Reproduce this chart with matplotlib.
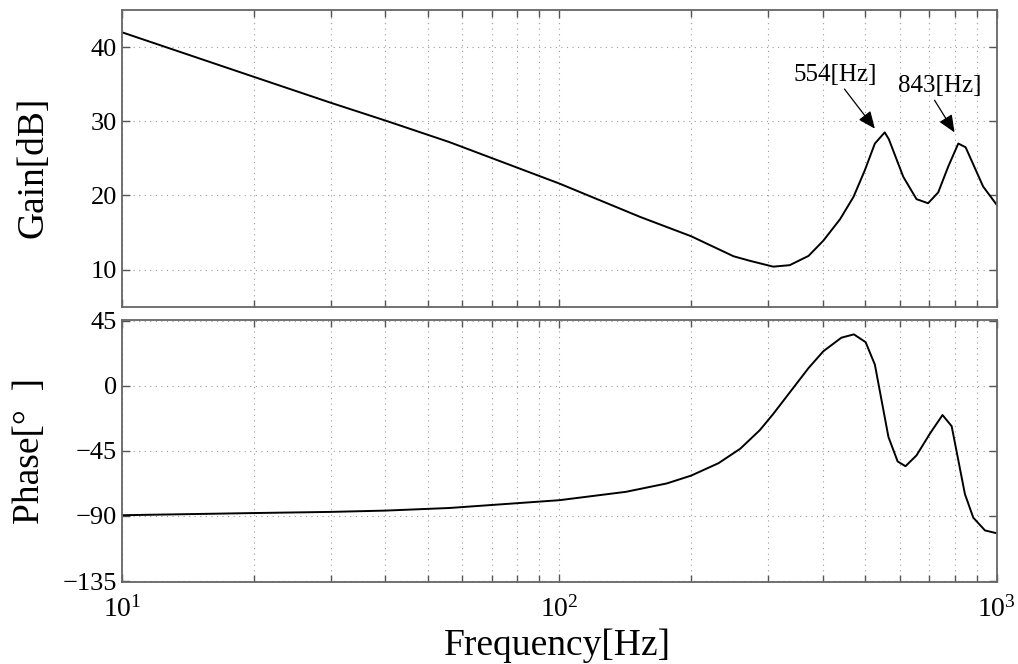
import numpy as np
import matplotlib
matplotlib.use("Agg")
import matplotlib.pyplot as plt
from matplotlib.ticker import LogLocator, NullFormatter, FixedLocator

plt.rcParams['font.family'] = ['Liberation Serif', 'DejaVu Serif']
plt.rcParams['mathtext.fontset'] = 'custom'
plt.rcParams['mathtext.rm'] = 'Liberation Serif'
plt.rcParams['mathtext.it'] = 'Liberation Serif:italic'
plt.rcParams['axes.unicode_minus'] = True

# ---------------------------------------------
# Bode data (frequency in Hz)
# ---------------------------------------------
gain_freq = [10, 20, 30, 40, 56, 100, 153, 200, 250, 272, 308, 336, 371, 401,
             438, 470, 499, 526, 554, 566, 611, 655, 696, 734, 774, 816, 848,
             930, 1000]
gain_db = [42.0, 36.0, 32.5, 30.1, 27.2, 21.6, 17.1, 14.5, 11.8, 11.2, 10.4,
           10.6, 11.85, 13.9, 16.8, 19.8, 23.4, 27.0, 28.5, 27.6, 22.5, 19.5,
           18.95, 20.4, 23.9, 27.0, 26.5, 21.2, 18.7]

phase_freq = [10, 20, 30, 40, 56, 100, 142, 176, 200, 231, 259, 287, 308, 342,
              371, 401, 441, 471, 501, 526, 565, 593, 618, 655, 703, 751, 788,
              845, 883, 939, 1000]
phase_deg = [-89.5, -88.0, -87.2, -86.3, -84.5, -79.1, -73.3, -67.5, -62.1,
             -53.5, -43.5, -30.7, -19.5, -1.6, 12.3, 23.9, 33.3, 35.6, 30.2,
             14.7, -35.4, -52.3, -55.6, -48.1, -33.0, -20.2, -27.9, -74.9,
             -91.2, -100.0, -102.0]

gain_ticks = [10, 20, 30, 40]
phase_ticks = [-135, -90, -45, 0, 45]

# resonance labels: (text, arrow tip freq, tip gain, text freq, text gain, arrow start on text)
peaks = [("554[Hz]", 526, 29.0, 428, 36.2, 0.58),
         ("843[Hz]", 800, 28.5, 739, 34.7, 0.42)]

fig = plt.figure(figsize=(10.18, 6.64), dpi=100)
ax1 = fig.add_axes([0.1198, 0.5381, 0.8595, 0.4468])
ax2 = fig.add_axes([0.1198, 0.1239, 0.8595, 0.3941], sharex=ax1)

grid_kw = dict(color='#9a9a9a', linestyle=(0, (1, 4)), linewidth=0.8)

for ax in (ax1, ax2):
    ax.set_xscale('log')
    ax.set_xlim(10, 1000)
    ax.xaxis.set_major_locator(LogLocator(base=10))
    ax.xaxis.set_minor_locator(LogLocator(base=10, subs=np.arange(2, 10)))
    ax.xaxis.set_minor_formatter(NullFormatter())
    ax.grid(True, which='both', axis='x', **grid_kw)
    ax.grid(True, which='major', axis='y', **grid_kw)
    ax.tick_params(which='both', direction='in', top=True, right=True,
                   color='#555555', labelsize=19, width=1.0)
    ax.tick_params(which='major', length=6)
    ax.tick_params(which='minor', length=5)
    for sp in ax.spines.values():
        sp.set_color('#666666')
        sp.set_linewidth(1.3)

# Gain
ax1.plot(gain_freq, gain_db, color='k', linewidth=1.4)
ax1.set_ylim(5, 45)
ax1.yaxis.set_major_locator(FixedLocator(gain_ticks))
ax1.tick_params(labelbottom=False)
ax1.set_ylabel("Gain[dB]", fontsize=27)
ax1.yaxis.set_label_coords(-0.082, 0.47)

for txt, fx, gy, tx, ty, rx in peaks:
    ax1.annotate(txt, xy=(fx, gy), xytext=(tx, ty), fontsize=18,
                 ha='center', va='center',
                 arrowprops=dict(arrowstyle='-|>,head_length=0.7,head_width=0.3',
                                 color='k', lw=0.9, mutation_scale=15,
                                 shrinkA=0, shrinkB=0, relpos=(rx, 0.0)))

# Phase
ax2.plot(phase_freq, phase_deg, color='k', linewidth=1.4)
ax2.set_ylim(-135.5, 45.5)
ax2.yaxis.set_major_locator(FixedLocator(phase_ticks))
ax2.tick_params(axis='x', pad=10, labelsize=20)
ax2.set_ylabel("Phase[°  ]", fontsize=27)
ax2.yaxis.set_label_coords(-0.086, 0.50)
ax2.set_xlabel("Frequency[Hz]", fontsize=27)
ax2.xaxis.set_label_coords(0.498, -0.18)

fig.savefig("out.png", dpi=100)
